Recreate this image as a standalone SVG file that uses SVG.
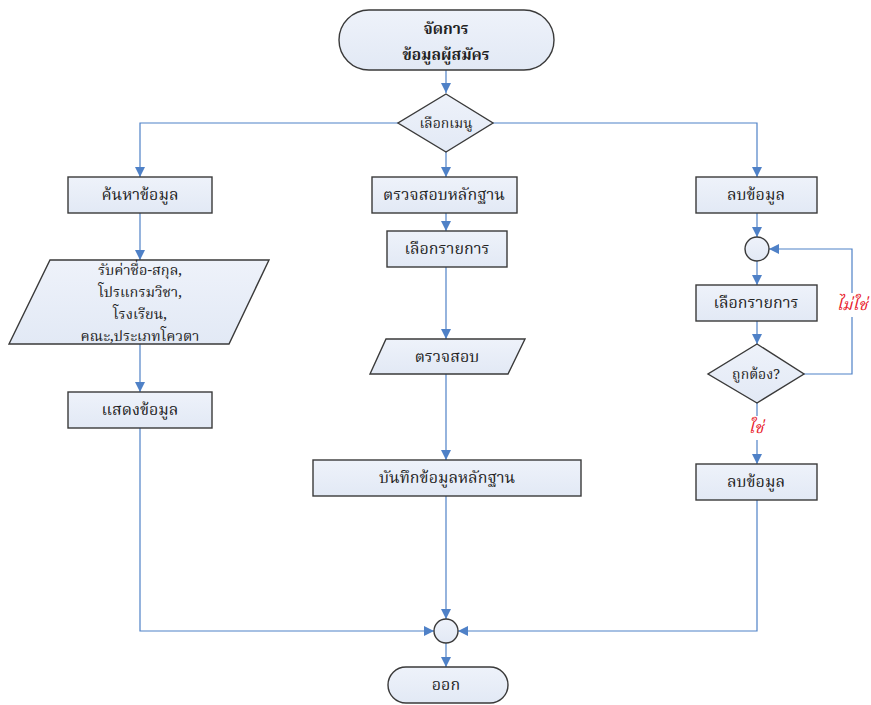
<svg xmlns="http://www.w3.org/2000/svg" width="871" height="705" viewBox="0 0 871 705">
<defs>
<linearGradient id="fillg" x1="0" y1="0" x2="0" y2="1">
<stop offset="0" stop-color="#eef2fa"/>
<stop offset="1" stop-color="#e2e9f5"/>
</linearGradient>
<marker id="arr" viewBox="0 0 10 10" refX="10" refY="5" markerWidth="10" markerHeight="10" markerUnits="userSpaceOnUse" orient="auto">
<path d="M0,0 L10,5 L0,10 Z" fill="#4f81c7"/>
</marker>
<style>
.shape{fill:url(#fillg);stroke:#3a3a3a;stroke-width:1.4}
.t{font-family:'Noto Serif Thai','Noto Sans Thai','Liberation Serif',serif;font-size:16px;fill:#222;text-anchor:middle}
.b{font-weight:bold;font-size:15.5px}
.s{font-size:14px}
.p{font-size:14.5px}
.red{fill:#e8202a;font-style:italic}
.c{fill:none;stroke:#4f81c7;stroke-width:1.2}
</style>
</defs>
<rect width="871" height="705" fill="#ffffff"/>
<g id="connectors">
<path class="c" d="M446,70 V93" marker-end="url(#arr)"/>
<path class="c" d="M398,123 H140 V177" marker-end="url(#arr)"/>
<path class="c" d="M446,152 V177" marker-end="url(#arr)"/>
<path class="c" d="M493,123 H757 V177" marker-end="url(#arr)"/>
<path class="c" d="M140,213 V260" marker-end="url(#arr)"/>
<path class="c" d="M140,344 V392" marker-end="url(#arr)"/>
<path class="c" d="M140,428 V631 H434" marker-end="url(#arr)"/>
<path class="c" d="M446,213 V231" marker-end="url(#arr)"/>
<path class="c" d="M446,267 V339" marker-end="url(#arr)"/>
<path class="c" d="M446,374 V460" marker-end="url(#arr)"/>
<path class="c" d="M446,496 V619" marker-end="url(#arr)"/>
<path class="c" d="M446,643 V667" marker-end="url(#arr)"/>
<path class="c" d="M757,213 V237" marker-end="url(#arr)"/>
<path class="c" d="M757,261 V285" marker-end="url(#arr)"/>
<path class="c" d="M757,321 V344" marker-end="url(#arr)"/>
<path class="c" d="M804,374 H852 V249 H769" marker-end="url(#arr)"/>
<path class="c" d="M757,403 V464" marker-end="url(#arr)"/>
<path class="c" d="M757,500 V631 H458" marker-end="url(#arr)"/>
<rect x="836" y="293" width="32" height="24" fill="#ffffff"/>
<text class="t red" x="852" y="310">ไม่ใช่</text>
<rect x="744" y="416" width="26" height="24" fill="#ffffff"/>
<text class="t red" x="756" y="433">ใช่</text>
</g>
<g id="start">
<rect class="shape" x="339" y="10" width="215" height="60" rx="30" ry="30"/>
<text class="t b" x="446" y="34">จัดการ</text>
<text class="t b" x="446" y="60">ข้อมูลผู้สมัคร</text>
</g>
<g id="menu">
<path class="shape" d="M446,94 L493,123 L446,152 L398,123 Z"/>
<text class="t s" x="446" y="128">เลือกเมนู</text>
</g>
<g id="search">
<rect class="shape" x="68" y="177" width="144" height="36"/>
<text class="t" x="140" y="200">ค้นหาข้อมูล</text>
</g>
<g id="input">
<path class="shape" d="M50,260 L269,260 L229,344 L9,344 Z"/>
<text class="t p" x="140" y="275">รับค่าชื่อ-สกุล,</text>
<text class="t p" x="140" y="297">โปรแกรมวิชา,</text>
<text class="t p" x="140" y="319">โรงเรียน,</text>
<text class="t p" x="140" y="341">คณะ,ประเภทโควตา</text>
</g>
<g id="show">
<rect class="shape" x="68" y="392" width="144" height="36"/>
<text class="t" x="140" y="415">แสดงข้อมูล</text>
</g>
<g id="check-evidence">
<rect class="shape" x="372" y="177" width="145" height="36"/>
<text class="t" x="444" y="200">ตรวจสอบหลักฐาน</text>
</g>
<g id="select-mid">
<rect class="shape" x="387" y="231" width="120" height="36"/>
<text class="t" x="447" y="254">เลือกรายการ</text>
</g>
<g id="check">
<path class="shape" d="M386,339 L525,339 L508,374 L370,374 Z"/>
<text class="t" x="447" y="362">ตรวจสอบ</text>
</g>
<g id="save">
<rect class="shape" x="313" y="460" width="268" height="36"/>
<text class="t" x="447" y="483">บันทึกข้อมูลหลักฐาน</text>
</g>
<g id="delete1">
<rect class="shape" x="696" y="177" width="121" height="36"/>
<text class="t" x="756" y="200">ลบข้อมูล</text>
</g>
<g id="loop-join">
<circle class="shape" cx="757" cy="249" r="12"/>
</g>
<g id="select-right">
<rect class="shape" x="696" y="285" width="121" height="36"/>
<text class="t" x="756" y="308">เลือกรายการ</text>
</g>
<g id="correct">
<path class="shape" d="M757,344 L804,374 L757,403 L708,374 Z"/>
<text class="t s" x="756" y="379">ถูกต้อง?</text>
</g>
<g id="delete2">
<rect class="shape" x="696" y="464" width="121" height="36"/>
<text class="t" x="756" y="487">ลบข้อมูล</text>
</g>
<g id="end-join">
<circle class="shape" cx="446" cy="631" r="12"/>
</g>
<g id="exit">
<rect class="shape" x="388" y="667" width="120" height="36" rx="18" ry="18"/>
<text class="t" x="446" y="690">ออก</text>
</g>
</svg>
